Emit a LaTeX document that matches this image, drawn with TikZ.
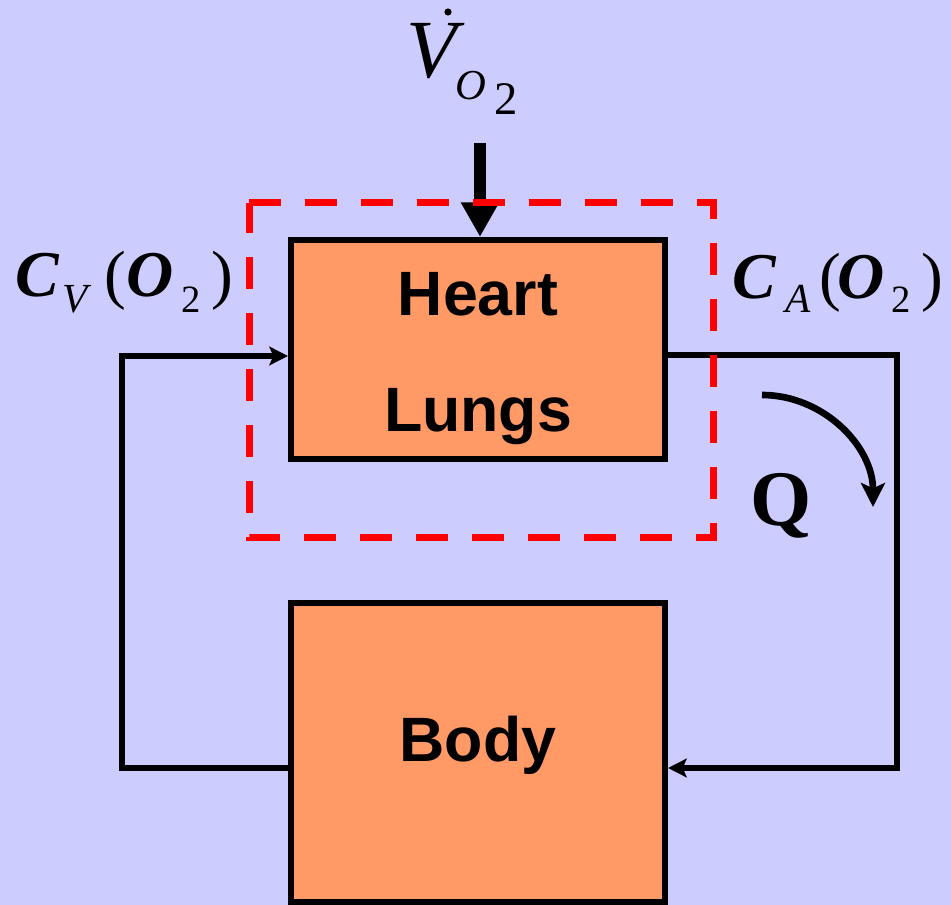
\documentclass[tikz,border=0pt]{standalone}
\usepackage{fontspec}
\setmainfont{Liberation Serif}
\newfontfamily\arialfont{Liberation Sans}
\usetikzlibrary{arrows.meta}
\definecolor{bgblue}{HTML}{CCCCFF}
\definecolor{boxorange}{HTML}{FF9966}
\definecolor{dashred}{HTML}{FF0000}
\tikzset{
  box/.style={draw=black, line width=4.5pt, fill=boxorange, inner sep=0pt,
    minimum width=280.5pt},
  boxtext/.style={anchor=base, inner sep=0pt,
    font=\arialfont\bfseries\fontsize{47}{47}\selectfont},
  conn/.style={draw=black, line width=4pt, line join=miter,
    -{Stealth[length=14pt,width=14pt,inset=3pt]}},
  inarrow/.style={draw=black, line width=9pt,
    -{Triangle[length=26pt,width=27pt]}},
  qarrow/.style={draw=black, line width=5pt,
    -{Stealth[length=18pt,width=18pt,inset=4pt]}},
  sysbound/.style={draw=dashred, line width=5.25pt, dash pattern=on 24pt off 18pt},
  lbl/.style={anchor=base west, inner sep=0pt, text=black}
}
\begin{document}
\begin{tikzpicture}[x=0.75pt, y=-0.75pt]
\fill[bgblue] (0,0) rectangle (951,905);
\useasboundingbox (0,0) rectangle (951,905);

% boxes
\node[box, minimum height=164.25pt] (heart) at (478,349.5) {};
\node[box, minimum height=224.25pt] (body) at (478,752.5) {};
\node[boxtext] (heartlbl) at (478,316) {Heart};
\node[boxtext] (lungslbl) at (478,432) {Lungs};
\node[boxtext] (bodylbl) at (478,762) {Body};

% labels
\node[lbl] (vo2) at (406,78)
  {\fontsize{62}{62}\selectfont\itshape V\kern-1.1pt\raisebox{-16.5pt}{\fontsize{32}{32}\selectfont O}\kern6.5pt\raisebox{-27.75pt}{\fontsize{35}{35}\selectfont\upshape 2}};
\fill (448,12) circle[radius=3.6];

\node[lbl] (cv) at (15,297)
  {\fontsize{49}{49}\selectfont\bfseries\itshape C\kern3pt\raisebox{-11.5pt}{\fontsize{31}{31}\selectfont\mdseries\itshape V}\kern12pt{\mdseries\upshape(}\kern0.5pt O\kern6pt\raisebox{-11.5pt}{\fontsize{29}{29}\selectfont\mdseries\upshape 2}\kern8pt{\mdseries\upshape)}};

\node[lbl] (ca) at (732,299)
  {\fontsize{49}{49}\selectfont\bfseries\itshape C\kern7pt\raisebox{-10.5pt}{\fontsize{31}{31}\selectfont\mdseries\itshape A}\kern7pt{\mdseries\upshape(}\kern-3pt O\kern5pt\raisebox{-10.5pt}{\fontsize{29}{29}\selectfont\mdseries\upshape 2}\kern8pt{\mdseries\upshape)}};

\node[lbl] (q) at (750,526) {\fontsize{59}{59}\selectfont\bfseries Q};

% connector corners
\coordinate (lb) at (122,768);
\coordinate (lt) at (122,356);
\coordinate (rt) at (897,355);
\coordinate (rb) at (897,768);
\coordinate (vin) at (480,143);
\coordinate (qs) at (762,395);
\coordinate (qe) at (873,507);

\draw[conn] (lb -| body.west) -- (lb) -- (lt) -- (lt -| heart.west);
\draw[conn] (rt -| heart.east) -- (rt) -- (rb) -- (rb -| body.east);
\draw[inarrow] (vin) -- (vin |- heart.north);
\draw[qarrow] (qs) .. controls (823,395) and (873,446) .. (qe);

% system boundary
\draw[sysbound] (249,203) -- (713,203) -- (713,538) -- (249,538) -- cycle;
\end{tikzpicture}
\end{document}
